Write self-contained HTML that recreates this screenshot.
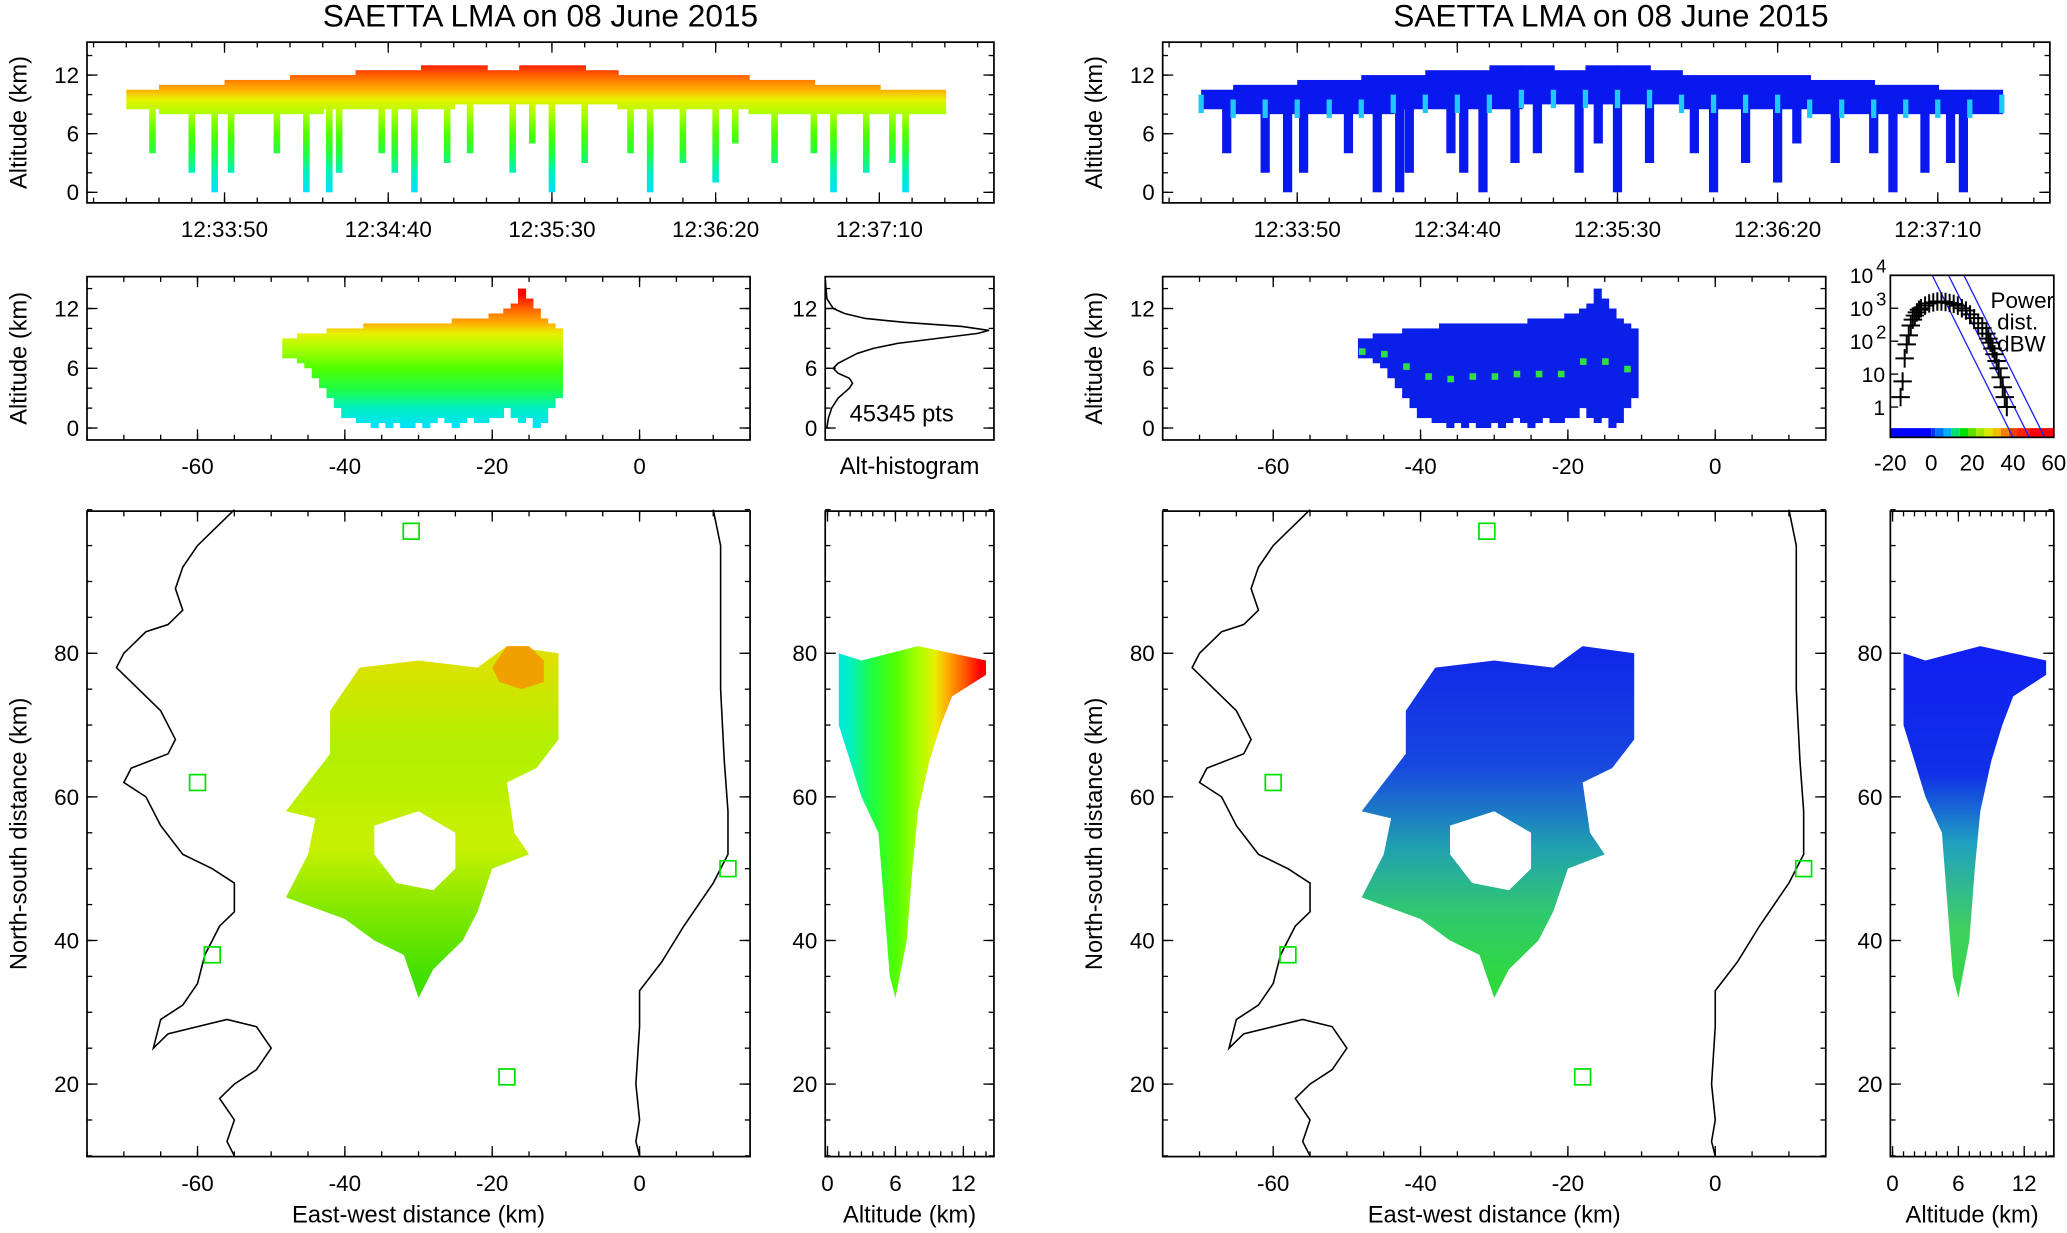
<!DOCTYPE html>
<html><head><meta charset="utf-8"><style>
html,body{margin:0;padding:0;background:#fff;}
svg{display:block;font-family:"Liberation Sans",sans-serif;}
</style></head><body>
<svg id="fig" xmlns="http://www.w3.org/2000/svg" width="2067" height="1233" viewBox="0 0 1568 936" preserveAspectRatio="none">
<defs id="defs"></defs>
<text x="410" y="20" font-size="24" text-anchor="middle">SAETTA LMA on 08 June 2015</text>
<text x="1222" y="20" font-size="24" text-anchor="middle">SAETTA LMA on 08 June 2015</text>
</svg>
<script>
// ---------- data ----------
const bandT=[20,30,40,50,60,70,80,90,100,110,120,130,140,150,160,170,180,190,200,210,220,230,240,250,260,270];
const bandHi=[10.5,11,11.5,11.5,12,12,12.5,12.5,13,13,13.5,13,13,13.5,13,12.5,12.5,12.5,12.5,12,12,11.5,11.5,11,11,11];
const bandLo=[8.5,8,8,8,8,8,8.5,8.5,8.5,8.5,9,9,9,9,9,8.5,8.5,8.5,8.5,8,8,8,8,8,8,8.5];
const streakT=[28,40,47,52,66,75,82,85,98,102,108,118,125,138,144,150,160,174,180,190,200,206,218,230,236,246,254,258];
const streakBot=[4,2,0,2,4,0,0,2,4,2,0,3,4,2,5,0,3,4,0,3,1,5,3,4,0,2,3,0];
const colX=[-48,-47,-46,-45,-44,-43,-42,-41,-40,-39,-38,-37,-36,-35,-34,-33,-32,-31,-30,-29,-28,-27,-26,-25,-24,-23,-22,-21,-20,-19,-18,-17,-16,-15,-14,-13,-12,-11];
const colTop=[9,9,9.5,9.5,9.5,9.5,10,10,10,10,10,10.5,10.5,10.5,10.5,10.5,10.5,10.5,10.5,10.5,10.5,10.5,10.5,11,11,11,11,11,11.5,11.5,12,12.5,14,13,12,11,10.5,10];
const colBot=[7,7,6.5,6,5,4,3,2,1,1,0.5,0.5,0,0.5,0,0.5,0,0,0.5,0,0.5,1,0.5,0,0.5,1,0.5,0.5,1,1,2,1,0.5,1,0,0.5,2,3];
const histAlt=[0,1,2,3,4,4.5,5,5.5,6,6.5,7,7.5,8,8.5,9,9.5,9.8,10.2,10.6,11,11.5,12,12.5,13,14,15];
const histVal=[0.01,0.02,0.04,0.08,0.15,0.17,0.15,0.08,0.05,0.08,0.14,0.2,0.3,0.45,0.7,0.95,1.02,0.85,0.5,0.25,0.12,0.05,0.03,0.01,0.005,0];
const stormX=[-42,-38,-30,-22,-18,-11,-11,-14,-18,-17,-15,-20,-22,-24,-28,-30,-32,-36,-40,-48,-45,-44,-48,-45,-42];
const stormY=[72,78,79,78,81,80,68,64,62,55,52,50,44,40,36,32,38,40,43,46,52,57,58,62,66];
const holeX=[-36,-30,-25,-25,-28,-33,-36];
const holeY=[56,58,55,50,47,48,52];
const hotX=[-20,-18,-15,-13,-13,-16,-19];
const hotY=[78,81,81,79,76,75,76];
const nsAlt=[1,3,8,14,14,11,10,9,8,7.5,7,6,5.5,5,4.5,3,1];
const nsY=[80,79,81,79,77,74,70,65,58,50,40,32,35,45,55,60,70];
const coastWX=[-55,-57,-58,-60,-62,-63,-62,-64,-67,-70,-71,-68,-65,-63,-64,-69,-70,-67,-65,-62,-58,-55,-55,-57,-59,-60,-62,-65,-66,-64,-60,-56,-52,-50,-52,-55,-57,-55,-56,-55];
const coastWY=[100,98,97,95,92,89,86,84,83,80,78,75,72,68,66,64,62,60,56,52,50,48,44,42,38,34,31,29,25,27,28,29,28,25,22,20,18,15,12,10];
const coastEX=[10,11,11,11,11.5,12,12,10,6,3,0,0,-0.5,0,-0.5,0];
const coastEY=[100,95,85,75,65,58,52,48,42,37,33,28,20,15,12,10];
const stationX=[-31,-60,-58,12,-18];
const stationY=[97,62,38,50,21];
const pwrP=[-15,-14,-13,-12,-11,-10,-9,-8,-7,-6,-5,-3,-1,1,3,5,7,9,11,13,15,17,19,21,23,25,27,28,29,30,31,32,33,34,35,36,37];
const pwrN=[2,6,30,80,150,300,450,600,750,900,1000,1200,1400,1500,1600,1600,1550,1450,1350,1200,1000,850,650,500,350,250,170,120,90,60,40,25,15,8,4,2,1];
const lineTopP=[0.5,8.5,16];
const cbarEdge=[-20,0,2,6,10,14,18,22,26,30,34,38,42,48,60];
const cbarCol=["#0000ff","#0030ff","#0070ff","#00b0ff","#00e070","#00e000","#60e000","#a0e800","#d8e800","#f0c000","#f08000","#f04000","#ff2000","#ff0000"];
const timeTicks=[50,100,150,200,250];

// ---------- helpers ----------
const NS='http://www.w3.org/2000/svg';
const svg=document.getElementById('fig');
const defs=document.getElementById('defs');
function mk(tag,parent){const e=document.createElementNS(NS,tag);(parent||svg).appendChild(e);return e;}
function panel(x0,x1,y0,y1,dx,dy,logy){
  return {x0,x1,y0,y1,sx:v=>x0+(v-dx[0])/(dx[1]-dx[0])*(x1-x0),
    sy:v=>{const w=logy?Math.log10(v):v;return y1-(w-dy[0])/(dy[1]-dy[0])*(y1-y0);}};
}
function frame(p,name){const r=mk('rect');r.setAttribute('x',p.x0);r.setAttribute('y',p.y0);r.setAttribute('width',p.x1-p.x0);r.setAttribute('height',p.y1-p.y0);r.setAttribute('fill','none');r.setAttribute('stroke','#000');r.setAttribute('stroke-width','1.3');

}
function tick(x1,y1,x2,y2){const l=mk('line');l.setAttribute('x1',x1);l.setAttribute('y1',y1);l.setAttribute('x2',x2);l.setAttribute('y2',y2);l.setAttribute('stroke','#000');l.setAttribute('stroke-width','1');

}
function label(x,y,s,anchor,size,name,rot){const t=mk('text');t.setAttribute('x',x);t.setAttribute('y',y);t.setAttribute('font-size',size||17);t.setAttribute('text-anchor',anchor||'middle');if(rot)t.setAttribute('transform','rotate(-90 '+x+' '+y+')');t.textContent=s;

return t;}
function xticks(p,vals,len,fmt,name){vals.forEach(v=>{const x=p.sx(v);tick(x,p.y1,x,p.y1-len);tick(x,p.y0,x,p.y0+len);if(fmt)label(x,p.y1+26,fmt(v),'middle',17,name);});}
function yticks(p,vals,len,fmt,name){vals.forEach(v=>{const y=p.sy(v);tick(p.x0,y,p.x0+len,y);tick(p.x1,y,p.x1-len,y);if(fmt)label(p.x0-6,y+6,fmt(v),'end',17,name);});}
function range(a,b,s){const r=[];for(let v=a;v<=b+1e-9;v+=s)r.push(+v.toFixed(3));return r;}
const altStops=[[0,'#00e0ff'],[2,'#00f0c0'],[4,'#20ff40'],[6,'#50ff00'],[8,'#a8ff00'],[9.5,'#e8f000'],[10.5,'#ffb000'],[12,'#ff6000'],[13.5,'#ff0000']];
function grad(id,x1,y1,x2,y2,stops,maxv){const g=mk('linearGradient',defs);g.setAttribute('id',id);g.setAttribute('gradientUnits','userSpaceOnUse');g.setAttribute('x1',x1);g.setAttribute('y1',y1);g.setAttribute('x2',x2);g.setAttribute('y2',y2);
stops.forEach(s=>{const st=mk('stop',g);st.setAttribute('offset',s[0]/maxv);st.setAttribute('stop-color',s[1]);});}
function fmtT(t){const tot=33*60+t;const m=Math.floor(tot/60),s=tot%60;return '12:'+String(m).padStart(2,'0')+':'+String(s).padStart(2,'0');}
function rect(x,y,w,h,fill,name){const r=mk('rect');r.setAttribute('x',x);r.setAttribute('y',y);r.setAttribute('width',w);r.setAttribute('height',h);r.setAttribute('fill',fill);

return r;}
function poly(p,xs,ys,hx,hy){let d='M'+xs.map((x,i)=>p.sx(x)+','+p.sy(ys[i])).join('L')+'Z';if(hx)d+='M'+hx.map((x,i)=>p.sx(x)+','+p.sy(hy[i])).join('L')+'Z';return d;}
function path(d,fill,stroke,name,sw){const e=mk('path');e.setAttribute('d',d);e.setAttribute('fill',fill);e.setAttribute('stroke',stroke||'none');e.setAttribute('stroke-width',sw||1);e.setAttribute('fill-rule','evenodd');

return e;}

['L','R'].forEach(side=>{
  const off=side==='L'?0:816;
  const right=side==='R';
  // time-height
  const tp=panel(66+off,right?1555:754,32,154,[8,285],[-1.08,15.37]);
  grad('ga'+side+'t',0,tp.sy(0),0,tp.sy(14),altStops,14);
  const fillT=right?'#0a18f0':'url(#ga'+side+'t)';
  const bw=right?7:5;
  streakT.forEach((t,i)=>{const x=tp.sx(t);const y2=tp.sy(bandLo[0]+1);const y1=tp.sy(streakBot[i]);rect(x-bw/2,y2,bw,y1-y2,fillT,'time-streak');});
  for(let i=0;i<bandT.length-1;i++){const xa=tp.sx(bandT[i]),xb=tp.sx(bandT[i+1]);const hi=Math.max(bandHi[i],bandHi[i+1])-0.5;
    rect(xa,tp.sy(hi),xb-xa+1,tp.sy(bandLo[i])-tp.sy(hi),fillT,'time-band');}
  if(right){bandT.forEach((t,i)=>{rect(tp.sx(t)-2,tp.sy(bandLo[i]+1.5),4,14,'#20c8ff','time-band-speckle');});}
  frame(tp,'time-plot-'+side);
  xticks(tp,timeTicks,8,fmtT,'time-tick-label');
  xticks(tp,range(10,280,10),4,null);
  yticks(tp,[0,6,12],8,v=>String(v),'alt-tick-label');
  yticks(tp,range(0,14,2),4,null);
  label(off+20,(tp.y0+tp.y1)/2,'Altitude (km)','middle',18,'y-axis-title',true);

  // alt vs EW
  const mp=panel(66+off,569+off-(right?-0:0),210,334,[-75,15],[-1.2,15.2]);
  grad('ga'+side+'m',0,mp.sy(0),0,mp.sy(14),altStops,14);
  const fillM=right?'#0a20e8':'url(#ga'+side+'m)';
  colX.forEach((x,i)=>{const xa=mp.sx(x-0.5),xb=mp.sx(x+0.6);rect(xa,mp.sy(colTop[i]),xb-xa,mp.sy(colBot[i])-mp.sy(colTop[i]),fillM,'alt-ew-column');});
  if(right){colX.forEach((x,i)=>{if(i%3===0)rect(mp.sx(x)-2,mp.sy((colTop[i]+colBot[i])/2),5,5,'#30e040','alt-ew-speckle');});}
  frame(mp,'alt-ew-plot-'+side);
  xticks(mp,[-60,-40,-20,0],8,v=>String(v),'ew-tick-label');
  xticks(mp,range(-75,15,5),4,null);
  yticks(mp,[0,6,12],8,v=>String(v),'alt-tick-label');
  yticks(mp,range(0,14,2),4,null);
  label(off+20,(mp.y0+mp.y1)/2,'Altitude (km)','middle',18,'y-axis-title',true);

  // plan view
  const pp=panel(66+off,569+off,388,878,[-75,15],[9.9,99.8]);
  if(right) grad('gp'+side,0,pp.sy(80),0,pp.sy(35),[[0,'#1028e8'],[0.35,'#1848e0'],[0.6,'#20a0b0'],[0.8,'#30c870'],[1,'#30d840']],1);
  else grad('gp'+side,0,pp.sy(80),0,pp.sy(35),[[0,'#e0e000'],[0.3,'#b0f000'],[0.6,'#c8f000'],[0.8,'#80e800'],[1,'#40e000']],1);
  path(poly(pp,stormX,stormY,holeX,holeY),'url(#gp'+side+')','none','storm-plan');
  if(!right) path(poly(pp,hotX,hotY),'#f0a000','none','storm-hot-region');
  path('M'+coastWX.map((x,i)=>pp.sx(x)+','+pp.sy(coastWY[i])).join('L'),'none','#000','coastline-west',1.2);
  path('M'+coastEX.map((x,i)=>pp.sx(x)+','+pp.sy(coastEY[i])).join('L'),'none','#000','coastline-east',1.2);
  stationX.forEach((x,i)=>{const s=rect(pp.sx(x)-6,pp.sy(stationY[i])-6,12,12,'none','station-marker');s.setAttribute('stroke','#00e000');s.setAttribute('stroke-width','1.3');});
  frame(pp,'plan-plot-'+side);
  xticks(pp,[-60,-40,-20,0],8,v=>String(v),'ew-tick-label');
  xticks(pp,range(-75,15,5),4,null);
  yticks(pp,[20,40,60,80],8,v=>String(v),'ns-tick-label');
  yticks(pp,range(10,100,5),4,null);
  label(off+20,(pp.y0+pp.y1)/2,'North-south distance (km)','middle',18,'y-axis-title',true);
  label((pp.x0+pp.x1)/2,928,'East-west distance (km)','middle',18,'x-axis-title');

  // NS vs alt
  const np=panel(right?1434:626,right?1558:754,388,878,[-0.2,14.7],[9.9,99.8]);
  if(right) grad('gn'+side,0,np.sy(80),0,np.sy(32),[[0,'#1020f0'],[0.35,'#1030e8'],[0.55,'#20a0c0'],[0.8,'#40d060'],[1,'#30d840']],1);
  else grad('gn'+side,np.sx(0),0,np.sx(14),0,altStops,14);
  path(poly(np,nsAlt,nsY),'url(#gn'+side+')','none','alt-ns-cloud');
  frame(np,'alt-ns-plot-'+side);
  xticks(np,[0,6,12],8,v=>String(v),'alt-tick-label');
  xticks(np,range(0,14,1),4,null);
  yticks(np,[20,40,60,80],8,v=>String(v),'ns-tick-label');
  yticks(np,range(10,100,5),4,null);
  label((np.x0+np.x1)/2,928,'Altitude (km)','middle',18,'x-axis-title');
});

// histogram (left)
const hp=panel(626,754,210,334,[0,1.05],[-1.2,15.2]);
path('M'+histAlt.map((a,i)=>hp.sx(histVal[i])+','+hp.sy(a)).join('L'),'none','#000','alt-histogram-curve',1.2);
frame(hp,'alt-histogram');
yticks(hp,[0,6,12],8,v=>String(v),'alt-tick-label');
yticks(hp,range(0,14,2),4,null);
label(684,320,'45345 pts','middle',18,'point-count');
label(690,360,'Alt-histogram','middle',18,'histogram-title');

// power distribution (right)
const pw=panel(1434,1558,209,332,[-20,60],[-0.92,4],true);
cbarCol.forEach((c,i)=>{const xa=pw.sx(cbarEdge[i]),xb=pw.sx(cbarEdge[i+1]);rect(xa,325,xb-xa,7,c,'power-colorbar-cell');});
lineTopP.forEach(p0=>{path('M'+pw.sx(p0)+','+pw.sy(10000)+'L'+pw.sx(p0+39.5)+','+pw.y1,'none','#2020ff','power-reference-line',1);});
pwrP.forEach((p,i)=>{const x=pw.sx(p),y=pw.sy(pwrN[i]);path('M'+(x-7)+','+y+'H'+(x+7)+'M'+x+','+(y-7)+'V'+(y+7),'none','#000','power-point',1.5);});
frame(pw,'power-distribution');
[[10000,'10','4'],[1000,'10','3'],[100,'10','2'],[10,'10',''],[1,'1','']].forEach(d=>{const y=pw.sy(d[0]);tick(pw.x0,y,pw.x0+6,y);
 const t=label(pw.x0-4,y+6,d[1],'end',16,'power-y-label');if(d[2]){t.setAttribute('x',pw.x0-13);const s=label(pw.x0-3,y-2,d[2],'end',14,'power-y-exponent');}});
[-20,0,20,40,60].forEach(v=>label(pw.sx(v),357,String(v),'middle',17,'power-x-label'));
label(1510,234,'Power','start',17,'power-text');
label(1515,250,'dist.','start',17,'power-text');
label(1515,267,'dBW','start',17,'power-text');
</script>
</body></html>
